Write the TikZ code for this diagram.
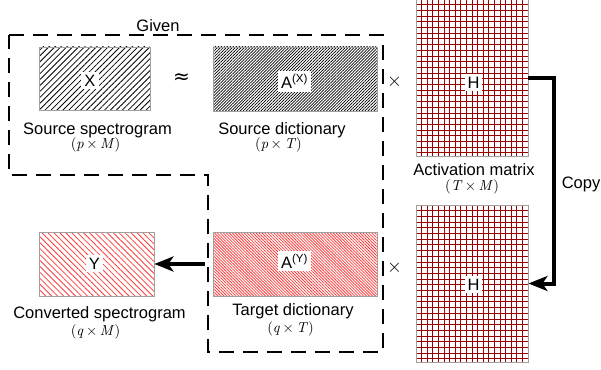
\documentclass[tikz,border=0pt]{standalone}
\usepackage{fontspec}
\setmainfont{Liberation Sans}
\newfontfamily\lmr{lmroman10-regular.otf}[ItalicFont=lmroman10-italic.otf]
\newfontfamily\symfont{DejaVu Sans}
\usetikzlibrary{patterns.meta,arrows.meta}
\definecolor{boxgray}{RGB}{160,160,160}
\definecolor{gridred}{RGB}{150,0,0}
\definecolor{hatchred}{RGB}{255,60,60}

\newcommand{\dimpair}[2]{(\textit{#1}\hspace{2.5pt}×\hspace{2.5pt}\textit{#2})}

\tikzset{
  matbox/.style={draw=boxgray, line width=0.9pt, inner sep=0pt},
  sparse/.style={pattern={Lines[angle=45,distance=4.2pt,line width=0.8pt]}},
  dense/.style={pattern={Lines[angle=45,distance=2.1pt,line width=0.7pt]}},
  tag/.style={fill=white, inner sep=3pt, font=\fontsize{16.5}{18}\selectfont},
  caption/.style={anchor=base, inner sep=0pt, font=\fontsize{16.5}{18}\selectfont},
  dimtext/.style={inner sep=0pt, font=\lmr\fontsize{14.5}{16}\selectfont},
  optext/.style={inner sep=0pt, font=\lmr\fontsize{19}{20}\selectfont},
  bigarrow/.style={line width=4pt, -{Stealth[length=19pt,width=15pt,inset=5pt]}},
  actgrid/.style={matbox, minimum width=112pt, path picture={
      \foreach \i in {1,...,19}
        \draw[gridred, line width=0.9pt]
          ([xshift=\i*5.6pt]path picture bounding box.north west) --
          ([xshift=\i*5.6pt]path picture bounding box.south west);
      \foreach \j in {1,...,27}
        \draw[gridred, line width=0.9pt]
          ([yshift=-\j*5.7pt]path picture bounding box.north west) --
          ([yshift=-\j*5.7pt]path picture bounding box.north east);
    }}
}

\begin{document}
\begin{tikzpicture}[x=1pt,y=-1pt]
\useasboundingbox (0,0) rectangle (601,369);

% given part
\draw[line width=2.6pt, dash pattern=on 15pt off 9pt]
  (9,35) -- (383,35) -- (383,352) -- (208,352) -- (208,175) -- (9,175) -- cycle;
\node[caption] (given) at (158,31) {Given};

% source side
\node[matbox, sparse, pattern color=black, minimum width=111pt, minimum height=63pt] (X) at (94.5,78.5) {};
\node[tag] (Xtag) at (90,80.5) {X};
\node[caption] (Xcap) at (97.5,134) {Source spectrogram};
\node[dimtext] (Xdim) at (95.5,145) {\dimpair{p}{M}};

\node[optext, font=\symfont\fontsize{20}{22}\selectfont] (approx) at (181.5,79) {≈};

\node[matbox, dense, pattern color=black, minimum width=164pt, minimum height=64pt] (AX) at (295,79) {};
\node[tag] (AXtag) at (294.5,81.5) {A\textsuperscript{(X)}};
\node[caption] (AXcap) at (282,134) {Source dictionary};
\node[dimtext] (AXdim) at (278.5,145) {\dimpair{p}{T}};

\node[optext] (times1) at (394.5,81.5) {×};

\node[actgrid, minimum height=157pt] (Htop) at (472,77.5) {};
\node[tag] (Htoptag) at (473.5,82.5) {H};
\node[caption] (Hcap) at (474,175) {Activation matrix};
\node[dimtext] (Hdim) at (472,186.5) {\dimpair{T}{M}};

% target side
\node[matbox, sparse, pattern color=hatchred, pattern={Lines[angle=-45,distance=4.2pt,line width=0.8pt]}, minimum width=115pt, minimum height=64pt] (Y) at (96.5,264) {};
\node[tag] (Ytag) at (94.5,263.5) {Y};
\node[caption] (Ycap) at (99.5,318) {Converted spectrogram};
\node[dimtext] (Ydim) at (95.5,331.5) {\dimpair{q}{M}};

\node[matbox, pattern color=hatchred, pattern={Lines[angle=-45,distance=2.1pt,line width=0.8pt]}, minimum width=164pt, minimum height=64pt] (AY) at (295,264) {};
\node[tag] (AYtag) at (294.5,261) {A\textsuperscript{(Y)}};
\node[caption] (AYcap) at (293,315) {Target dictionary};
\node[dimtext] (AYdim) at (290.5,328.5) {\dimpair{q}{T}};

\node[optext] (times2) at (394.5,267.5) {×};

\node[actgrid, minimum height=157pt] (Hbot) at (472,283.5) {};
\node[tag] (Hbottag) at (473.5,284.5) {H};

% arrows
\coordinate (turn) at (554,77.5);
\draw[bigarrow] (Htop.east) -- (turn) |- (Hbot.east);
\node[caption] (copy) at (581,188) {Copy};
\draw[bigarrow] ([xshift=-8pt]AY.west) -- (Y.east);
\end{tikzpicture}
\end{document}
